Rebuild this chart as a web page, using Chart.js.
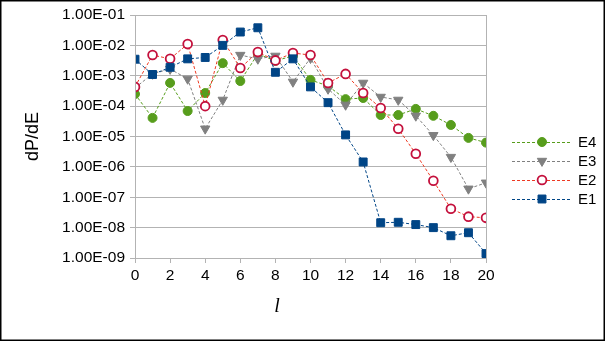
<!DOCTYPE html>
<html>
<head>
<meta charset="utf-8">
<script src="https://cdn.jsdelivr.net/npm/chart.js@4.4.1/dist/chart.umd.min.js"></script>
<style>
  html, body { margin: 0; padding: 0; background: #fff; }
  #wrap { position: relative; width: 605px; height: 341px; }
</style>
</head>
<body>
<div id="wrap"><canvas id="chart" width="605" height="341"></canvas></div>
<script>
// l values along the x axis
const lValues = [0, 1, 2, 3, 4, 5, 6, 7, 8, 9, 10, 11, 12, 13, 14, 15, 16, 17, 18, 19, 20];

// dP/dE for each series
const e1 = [3.5e-3, 1.1e-3, 1.9e-3, 3.6e-3, 4.0e-3, 1.0e-2, 2.75e-2, 3.8e-2, 1.3e-3, 3.6e-3, 4.3e-4,
            1.3e-4, 1.13e-5, 1.45e-6, 1.45e-8, 1.5e-8, 1.26e-8, 1.0e-8, 5.4e-9, 6.8e-9, 1.4e-9];
const e2 = [4.3e-4, 4.8e-3, 3.6e-3, 1.1e-2, 1.0e-4, 1.5e-2, 1.8e-3, 6.0e-3, 3.2e-3, 5.6e-3, 4.8e-3,
            5.8e-4, 1.15e-3, 2.7e-4, 8.7e-5, 1.8e-5, 2.7e-6, 3.5e-7, 4.2e-8, 2.3e-8, 2.1e-8];
const e3 = [4.0e-4, 1.15e-3, 1.67e-3, 7.9e-4, 1.8e-5, 1.6e-4, 4.8e-3, 3.6e-3, 4.5e-3, 6.3e-4, 3.8e-3,
            3.7e-4, 1.1e-4, 5.8e-4, 2.0e-4, 1.6e-4, 4.8e-5, 1.1e-5, 2.1e-6, 1.9e-7, 3.0e-7];
const e4 = [2.5e-4, 4.1e-5, 5.8e-4, 6.9e-5, 2.7e-4, 2.6e-3, 6.7e-4, 5.2e-3, 3.1e-3, 4.5e-3, 7.3e-4,
            4.6e-4, 1.7e-4, 1.85e-4, 5.1e-5, 5.1e-5, 8.1e-5, 4.8e-5, 2.4e-5, 9.0e-6, 6.3e-6];

// decade ticks on the y axis
const yTicks = [1e-9, 1e-8, 1e-7, 1e-6, 1e-5, 1e-4, 1e-3, 1e-2, 1e-1];

const seriesNames = ['E1', 'E2', 'E3', 'E4'];

function toPoints(vals) {
  return lValues.map((l, i) => ({ x: l, y: vals[i] }));
}

function fmtExp(v) {
  const e = Math.round(Math.log10(v));
  const sign = e < 0 ? '-' : '+';
  const a = Math.abs(e);
  return '1.00E' + sign + (a < 10 ? '0' + a : a);
}

const gridGray = '#b3b3b3';
const font = 'Liberation Sans';

// frame, x title, right side legend and outer border
const sideLegend = {
  id: 'sideLegend',
  afterDraw(chart) {
    const ctx = chart.ctx;
    const area = chart.chartArea;
    // frame around the plot area
    ctx.save();
    ctx.strokeStyle = gridGray;
    ctx.lineWidth = 1;
    ctx.strokeRect(Math.round(area.left) + 0.5, Math.round(area.top) + 0.5,
      Math.round(area.right - area.left), Math.round(area.bottom - area.top));
    ctx.restore();

    // x axis title sits a bit left of the plot centre in the original
    ctx.save();
    ctx.fillStyle = '#000';
    ctx.font = 'italic 20px "Liberation Serif"';
    ctx.textAlign = 'center';
    ctx.textBaseline = 'middle';
    ctx.fillText('l', 277, 307);
    ctx.restore();

    const sets = chart.data.datasets;
    const x0 = 512, x1 = 572, yTop = 142, step = 19;
    ctx.save();
    for (let k = 0; k < sets.length; k++) {
      const ds = sets[sets.length - 1 - k];
      const y = yTop + k * step;
      ctx.strokeStyle = ds.borderColor;
      ctx.lineWidth = 1;
      ctx.setLineDash(ds.borderDash || []);
      ctx.beginPath();
      ctx.moveTo(x0, y + 0.5);
      ctx.lineTo(x1, y + 0.5);
      ctx.stroke();
      ctx.setLineDash([]);
      ctx.fillStyle = ds.pointBackgroundColor;
      ctx.strokeStyle = ds.pointBorderColor;
      ctx.lineWidth = ds.pointBorderWidth;
      Chart.helpers.drawPoint(ctx, {
        pointStyle: ds.pointStyle,
        rotation: ds.pointRotation || 0,
        radius: ds.pointRadius,
        borderWidth: ds.pointBorderWidth
      }, (x0 + x1) / 2, y);
      ctx.fillStyle = '#000';
      ctx.font = '15px "' + font + '"';
      ctx.textAlign = 'left';
      ctx.textBaseline = 'middle';
      ctx.fillText(ds.label, 578, y + 1);
    }
    ctx.restore();

    // outer border of the picture
    ctx.save();
    ctx.strokeStyle = '#000';
    ctx.lineWidth = 1.5;
    ctx.strokeRect(0.75, 0.75, chart.width - 1.5, chart.height - 1.5);
    ctx.restore();
  }
};

const ctx = document.getElementById('chart').getContext('2d');

const chart = new Chart(ctx, {
  type: 'line',
  data: {
    datasets: [
      {
        label: seriesNames[0], data: toPoints(e1),
        borderColor: '#004586', borderWidth: 1, borderDash: [3, 2],
        pointStyle: 'rect', pointRadius: 5.6, pointBorderWidth: 1,
        pointBackgroundColor: '#004586', pointBorderColor: '#004586'
      },
      {
        label: seriesNames[1], data: toPoints(e2),
        borderColor: '#ee3a22', borderWidth: 1, borderDash: [3, 2],
        pointStyle: 'circle', pointRadius: 4.4, pointBorderWidth: 1.8,
        pointBackgroundColor: '#ffffff', pointBorderColor: '#c4103c'
      },
      {
        label: seriesNames[2], data: toPoints(e3),
        borderColor: '#808080', borderWidth: 1, borderDash: [3, 2],
        pointStyle: 'triangle', pointRotation: 180, pointRadius: 5.4, pointBorderWidth: 1,
        pointBackgroundColor: '#808080', pointBorderColor: '#808080'
      },
      {
        label: seriesNames[3], data: toPoints(e4),
        borderColor: '#579d1c', borderWidth: 1, borderDash: [3, 2],
        pointStyle: 'circle', pointRadius: 4.5, pointBorderWidth: 1,
        pointBackgroundColor: '#579d1c', pointBorderColor: '#579d1c'
      }
    ]
  },
  options: {
    responsive: false,
    animation: false,
    layout: { padding: { top: 15, right: 119, left: 0, bottom: 0 } },
    plugins: {
      legend: { display: false },
      tooltip: { enabled: false }
    },
    scales: {
      x: {
        type: 'linear',
        min: 0, max: 20,
        ticks: {
          stepSize: 2, padding: 3, color: '#000',
          font: { family: font, size: 15.5 }
        },
        grid: { drawOnChartArea: false, tickLength: 5, color: gridGray },
        border: { color: gridGray },
        afterFit: s => { s.height = 83; }
      },
      y: {
        type: 'logarithmic',
        min: 1e-9, max: 1e-1,
        afterBuildTicks: s => { s.ticks = yTicks.map(v => ({ value: v, major: true })); },
        ticks: {
          padding: 5, color: '#000',
          font: { family: font, size: 15.5 },
          callback: v => fmtExp(v)
        },
        grid: { color: gridGray, tickLength: 5 },
        border: { color: gridGray },
        title: {
          display: true, text: 'dP/dE', color: '#000',
          font: { family: font, size: 18 },
          padding: { top: 22, bottom: 0 }
        },
        afterFit: s => { s.width = 135; }
      }
    }
  },
  plugins: [sideLegend]
});
</script>
</body>
</html>
